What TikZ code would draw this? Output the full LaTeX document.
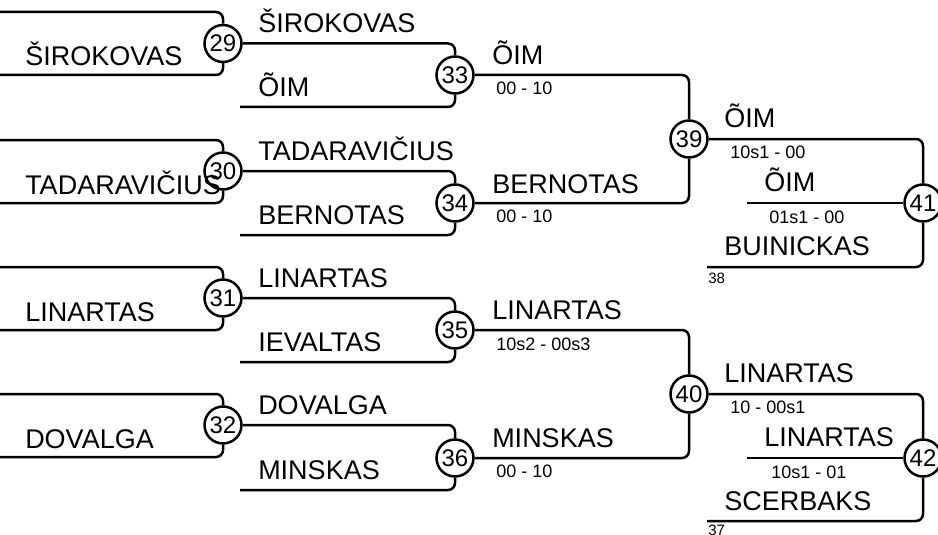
\documentclass[tikz,border=0pt]{standalone}
\usepackage{fontspec}
\setmainfont{Liberation Sans}

\begin{document}
\begin{tikzpicture}[
  x=1pt, y=-1pt, line width=2.5pt,
  match/.style={circle, draw, minimum size=37pt, inner sep=0pt, font=\fontsize{24}{24}\selectfont},
  player/.style={anchor=base west, inner sep=0pt, font=\fontsize{27}{27}\selectfont},
  result/.style={anchor=base west, inner sep=0pt, font=\fontsize{18}{18}\selectfont},
  seed/.style={anchor=base west, inner sep=0pt, font=\fontsize{15}{15}\selectfont},
  link/.style={rounded corners=7pt}
]
  \useasboundingbox (0,0) rectangle (938,535);

  % Cercles des rencontres, colonne par colonne.
  \node[match] (c29) at (223,43.5) {29};
  \node[match] (c30) at (223,171) {30};
  \node[match] (c31) at (223,298) {31};
  \node[match] (c32) at (223,425) {32};
  \node[match] (c33) at (455,75) {33};
  \node[match] (c34) at (455,203) {34};
  \node[match] (c35) at (455,330) {35};
  \node[match] (c36) at (455,458) {36};
  \node[match] (c39) at (689,139) {39};
  \node[match] (c40) at (689,394) {40};
  \node[match] (c41) at (923,203) {41};
  \node[match] (c42) at (923,458) {42};

  % Extremites libres des lignes.
  \coordinate (s29a) at (0,12);
  \coordinate (s29b) at (0,75);
  \coordinate (s30a) at (0,140);
  \coordinate (s30b) at (0,203);
  \coordinate (s31a) at (0,267);
  \coordinate (s31b) at (0,330);
  \coordinate (s32a) at (0,394);
  \coordinate (s32b) at (0,457);
  \coordinate (s33b) at (240,107);
  \coordinate (s34b) at (240,235);
  \coordinate (s35b) at (240,362);
  \coordinate (s36b) at (240,490);
  \coordinate (s41m) at (747,203);
  \coordinate (s41b) at (707,267);
  \coordinate (s42m) at (747,458);
  \coordinate (s42b) at (707,521);

  \draw[link] (s29a) -| (c29);
  \draw[link] (s29b) -| (c29);
  \draw[link] (s30a) -| (c30);
  \draw[link] (s30b) -| (c30);
  \draw[link] (s31a) -| (c31);
  \draw[link] (s31b) -| (c31);
  \draw[link] (s32a) -| (c32);
  \draw[link] (s32b) -| (c32);

  \draw[link] (c29) -| (c33);
  \draw[link] (s33b) -| (c33);
  \draw[link] (c30) -| (c34);
  \draw[link] (s34b) -| (c34);
  \draw[link] (c31) -| (c35);
  \draw[link] (s35b) -| (c35);
  \draw[link] (c32) -| (c36);
  \draw[link] (s36b) -| (c36);

  \draw[link] (c33) -| (c39);
  \draw[link] (c34) -| (c39);
  \draw[link] (c35) -| (c40);
  \draw[link] (c36) -| (c40);

  \draw[link] (c39) -| (c41);
  \draw (s41m) -- (c41);
  \draw[link] (s41b) -| (c41);
  \draw[link] (c40) -| (c42);
  \draw (s42m) -- (c42);
  \draw[link] (s42b) -| (c42);

  % Noms des joueurs
  \node[player] (t29) at (24,66) {ŠIROKOVAS};
  \node[player] (t30) at (24,194) {TADARAVIČIUS};
  \node[player] (t31) at (24,321) {LINARTAS};
  \node[player] (t32) at (24,448) {DOVALGA};

  \node[player] (t33a) at (257,33) {ŠIROKOVAS};
  \node[player] (t33b) at (257,96) {ÕIM};
  \node[player] (t34a) at (257,160) {TADARAVIČIUS};
  \node[player] (t34b) at (257,224) {BERNOTAS};
  \node[player] (t35a) at (257,287) {LINARTAS};
  \node[player] (t35b) at (257,351) {IEVALTAS};
  \node[player] (t36a) at (257,414) {DOVALGA};
  \node[player] (t36b) at (257,479) {MINSKAS};

  \node[player] (t39a) at (491,65) {ÕIM};
  \node[player] (t39b) at (491,193) {BERNOTAS};
  \node[player] (t40a) at (491,319) {LINARTAS};
  \node[player] (t40b) at (491,447) {MINSKAS};

  \node[player] (t41a) at (723,128) {ÕIM};
  \node[player] (t41m) at (763,191) {ÕIM};
  \node[player] (t41b) at (723,255) {BUINICKAS};
  \node[player] (t42a) at (723,382) {LINARTAS};
  \node[player] (t42m) at (763,446) {LINARTAS};
  \node[player] (t42b) at (723,510) {SCERBAKS};

  % Scores sous les lignes
  \node[result] (r33) at (495,95) {00 - 10};
  \node[result] (r34) at (495,222) {00 - 10};
  \node[result] (r35) at (495,350) {10s2 - 00s3};
  \node[result] (r36) at (495,477) {00 - 10};
  \node[result] (r39) at (729,158) {10s1 - 00};
  \node[result] (r41m) at (768,223) {01s1 - 00};
  \node[result] (r40) at (729,413) {10 - 00s1};
  \node[result] (r42m) at (770,478) {10s1 - 01};

  \node[seed] (n38) at (707,283) {38};
  \node[seed] (n37) at (707,535) {37};
\end{tikzpicture}
\end{document}
